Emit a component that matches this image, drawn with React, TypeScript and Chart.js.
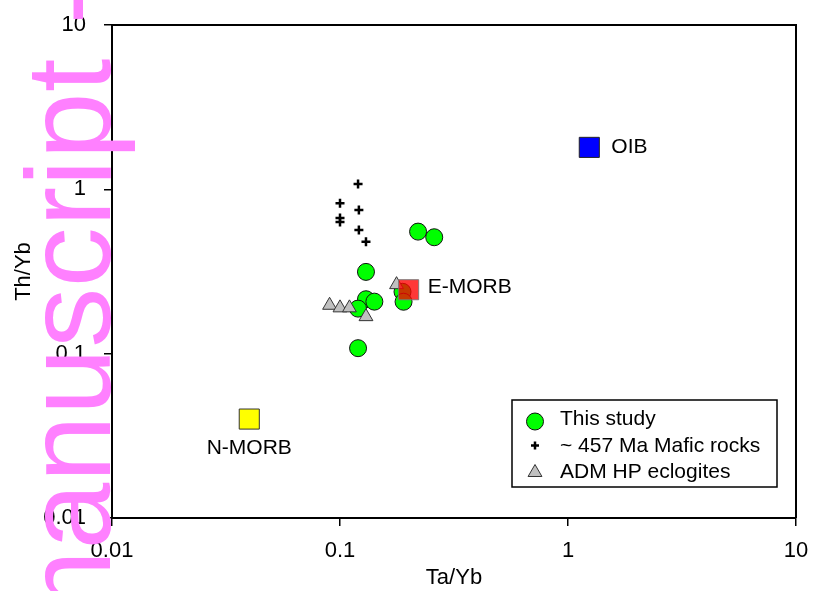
import React, { useEffect, useRef } from 'react';
import { Chart, registerables } from 'chart.js';

Chart.register(...registerables);

const FONT = '"Liberation Sans", Arial, Helvetica, sans-serif';

// ---- data ----
const thisStudyTaYb = [0.22, 0.259, 0.13, 0.13, 0.1415, 0.12, 0.12, 0.188, 0.19];
const thisStudyThYb = [0.553, 0.511, 0.3145, 0.2144, 0.2073, 0.188, 0.108, 0.238, 0.207];

const maficTaYb = [0.12, 0.1, 0.121, 0.1, 0.1, 0.121, 0.13];
const maficThYb = [1.079, 0.823, 0.749, 0.67, 0.633, 0.566, 0.48];

const eclogiteTaYb = [0.09, 0.1, 0.11, 0.13, 0.177];
const eclogiteThYb = [0.197, 0.19, 0.19, 0.168, 0.263];

const referenceNames = ['N-MORB', 'E-MORB', 'OIB'];
const referenceTaYb = [0.04, 0.2, 1.24];
const referenceThYb = [0.04, 0.245, 1.8];

const tickValues = [0.01, 0.1, 1, 10];
const tickLabels = ['0.01', '0.1', '1', '10'];
const legendLabels = ['This study', '~ 457 Ma Mafic rocks', 'ADM HP eclogites'];
const xTitle = 'Ta/Yb';
const yTitle = 'Th/Yb';
const watermark = 'manuscript -';

// ---- styles ----
const GREEN = '#00FF00';
const GREY = '#C0C0C0';
const refFill = ['#FFFF00', 'rgba(255,0,0,0.78)', '#0000FF'];
const refBorder = ['#333333', 'rgba(120,120,120,0.9)', '#222222'];
const refLabelStyle = [
  { dx: 0, dy: 29, align: 'center' },
  { dx: 19, dy: -3, align: 'left' },
  { dx: 22, dy: 0, align: 'left' },
];
const LEGEND = { left: 512, top: 400, right: 777, bottom: 487, markerX: 535, textX: 560, centers: [421.5, 445.5, 470.5], baselines: [425, 451.7, 478.3] };

const pts = (xs: number[], ys: number[]) => xs.map((x, i) => ({ x, y: ys[i] }));

function drawTriangle(ctx: CanvasRenderingContext2D, x: number, y: number, r: number) {
  ctx.beginPath();
  let rad = 0;
  for (let k = 0; k < 3; k++) {
    const px = x + Math.sin(rad) * r;
    const py = y - Math.cos(rad) * r;
    if (k === 0) ctx.moveTo(px, py); else ctx.lineTo(px, py);
    rad += (2 * Math.PI) / 3;
  }
  ctx.closePath();
}

const overlayPlugin = {
  id: 'overlay',
  afterDatasetsDraw(chart: any) {
    const { ctx, chartArea: a, scales } = chart;
    ctx.save();
    ctx.strokeStyle = '#000';
    ctx.lineWidth = 2;
    ctx.beginPath();
    ctx.moveTo(a.left, a.top);
    ctx.lineTo(a.right, a.top);
    ctx.lineTo(a.right, a.bottom);
    ctx.stroke();

    ctx.font = `21px ${FONT}`;
    ctx.fillStyle = '#000';
    ctx.textBaseline = 'middle';
    referenceNames.forEach((name, i) => {
      const px = scales.x.getPixelForValue(referenceTaYb[i]);
      const py = scales.y.getPixelForValue(referenceThYb[i]);
      const st = refLabelStyle[i];
      ctx.textAlign = st.align as CanvasTextAlign;
      ctx.fillText(name, px + st.dx, py + st.dy);
    });

    ctx.fillStyle = '#fff';
    ctx.fillRect(LEGEND.left, LEGEND.top, LEGEND.right - LEGEND.left, LEGEND.bottom - LEGEND.top);
    ctx.lineWidth = 1.5;
    ctx.strokeStyle = '#000';
    ctx.strokeRect(LEGEND.left, LEGEND.top, LEGEND.right - LEGEND.left, LEGEND.bottom - LEGEND.top);

    const mx = LEGEND.markerX;
    ctx.beginPath();
    ctx.arc(mx, LEGEND.centers[0], 8.5, 0, Math.PI * 2);
    ctx.fillStyle = GREEN;
    ctx.fill();
    ctx.lineWidth = 1;
    ctx.strokeStyle = '#111';
    ctx.stroke();

    ctx.beginPath();
    ctx.lineWidth = 2.5;
    ctx.strokeStyle = '#000';
    ctx.moveTo(mx - 4, LEGEND.centers[1]);
    ctx.lineTo(mx + 4, LEGEND.centers[1]);
    ctx.moveTo(mx, LEGEND.centers[1] - 4);
    ctx.lineTo(mx, LEGEND.centers[1] + 4);
    ctx.stroke();

    drawTriangle(ctx, mx, LEGEND.centers[2] + 2, 8);
    ctx.fillStyle = GREY;
    ctx.fill();
    ctx.lineWidth = 1;
    ctx.strokeStyle = '#333';
    ctx.stroke();

    ctx.font = `21px ${FONT}`;
    ctx.fillStyle = '#000';
    ctx.textAlign = 'left';
    ctx.textBaseline = 'alphabetic';
    legendLabels.forEach((t, i) => ctx.fillText(t, LEGEND.textX, LEGEND.baselines[i]));
    ctx.restore();
  },
};

function axisCommon(title: string, titlePadding: any, tickPadding: number) {
  return {
    type: 'logarithmic' as const,
    min: 0.01,
    max: 10,
    afterBuildTicks: (s: any) => {
      s.ticks = tickValues.map((v) => ({ value: v }));
    },
    ticks: {
      callback: (_v: any, i: number) => tickLabels[i],
      font: { size: 22, family: FONT },
      color: '#000',
      padding: tickPadding,
      autoSkip: false,
      maxRotation: 0,
      minRotation: 0,
    },
    grid: { display: true, drawOnChartArea: false, drawTicks: true, tickLength: 8, color: '#000', lineWidth: 1.5 },
    border: { display: true, color: '#000', width: 2 },
    title: { display: true, text: title, font: { size: 22, family: FONT }, color: '#000', padding: titlePadding },
  };
}

export default function App() {
  const ref = useRef<HTMLCanvasElement>(null);
  useEffect(() => {
    if (!ref.current) return;
    const chart = new Chart(ref.current, {
      type: 'scatter',
      data: {
        datasets: [
          {
            label: 'References',
            data: pts(referenceTaYb, referenceThYb),
            pointStyle: 'rect',
            pointRadius: 14.2,
            backgroundColor: refFill,
            borderColor: refBorder,
            borderWidth: 1,
            order: 0,
          },
          {
            label: legendLabels[2],
            data: pts(eclogiteTaYb, eclogiteThYb),
            pointStyle: 'triangle',
            pointRadius: 8,
            backgroundColor: GREY,
            borderColor: '#333',
            borderWidth: 1,
            order: 1,
          },
          {
            label: legendLabels[1],
            data: pts(maficTaYb, maficThYb),
            pointStyle: 'cross',
            pointRadius: 4.5,
            borderColor: '#000',
            backgroundColor: '#000',
            borderWidth: 2.5,
            order: 2,
          },
          {
            label: legendLabels[0],
            data: pts(thisStudyTaYb, thisStudyThYb),
            pointStyle: 'circle',
            pointRadius: 8.5,
            backgroundColor: GREEN,
            borderColor: '#111',
            borderWidth: 1,
            order: 3,
          },
        ],
      } as any,
      options: {
        animation: false,
        responsive: false,
        events: [],
        layout: { padding: { left: 0, top: 25, right: 17, bottom: 0 } },
        plugins: { legend: { display: false }, tooltip: { enabled: false } },
        scales: {
          x: {
            ...axisCommon(xTitle, { top: 0, bottom: 0 }, 12),
            afterFit: (s: any) => {
              s.height = 73;
              s.paddingLeft = 0;
              s.paddingRight = 0;
            },
          },
          y: {
            ...axisCommon(yTitle, { top: 11, bottom: 0 }, 18),
            afterFit: (s: any) => {
              s.width = 112;
              s.paddingTop = 0;
              s.paddingBottom = 0;
            },
          },
        } as any,
      },
      plugins: [overlayPlugin],
    });
    return () => chart.destroy();
  }, []);

  return (
    <div style={{ position: 'fixed', left: 0, top: 0, width: 813, height: 591, overflow: 'hidden', background: '#fff' }}>
      <canvas ref={ref} width={813} height={591} style={{ position: 'absolute', left: 0, top: 0 }} />
      <div
        style={{
          position: 'absolute',
          left: 8.4,
          top: 650,
          transformOrigin: '0 0',
          transform: 'rotate(-90deg)',
          whiteSpace: 'nowrap',
          fontFamily: FONT,
          fontSize: 120,
          lineHeight: '120px',
          letterSpacing: '0.5px',
          color: '#FF80FF',
          pointerEvents: 'none',
        }}
      >
        {watermark}
      </div>
    </div>
  );
}
